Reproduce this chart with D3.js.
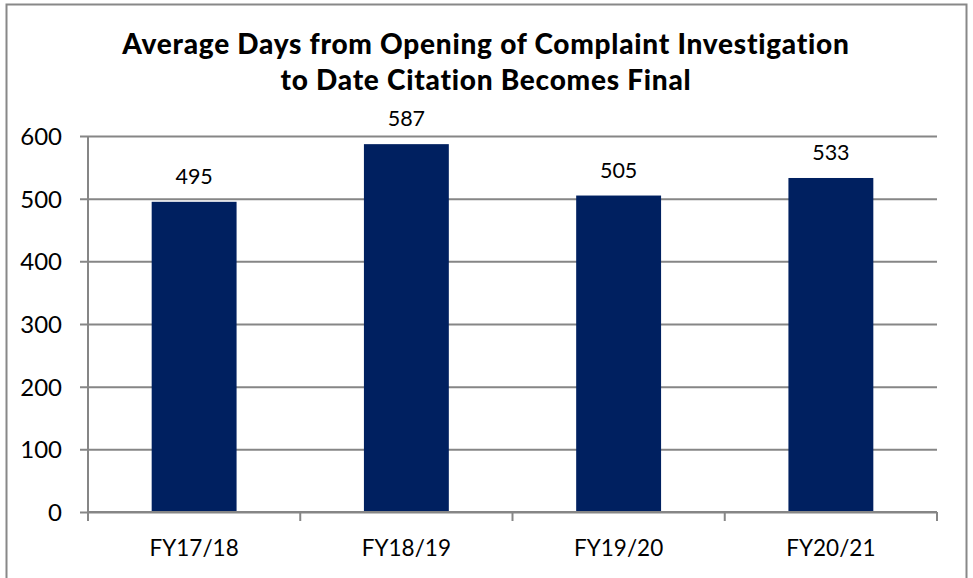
<!DOCTYPE html>
<html>
<head>
<meta charset="utf-8">
<script src="https://cdn.jsdelivr.net/npm/d3@7"></script>
<style>
  body { margin: 0; background: #fff; }
  text { font-family: Lato, "Open Sans", sans-serif; fill: #000; }
</style>
</head>
<body>
<svg width="973" height="578"></svg>
<script>
// chart data
var years = ['FY17/18', 'FY18/19', 'FY19/20', 'FY20/21'];
var avgDays = [495, 587, 505, 533];
var yTicks = [0, 100, 200, 300, 400, 500, 600];
var titleLines = ['Average Days from Opening of Complaint Investigation',
                  'to Date Citation Becomes Final'];

var svg = d3.select('svg');
var m = {left: 88, right: 937, top: 136, bottom: 512};
var gridColor = '#868686';

// outer frame (bottom edge runs off the picture)
svg.append('rect')
  .attr('x', 6.5).attr('y', 4.5)
  .attr('width', 960).attr('height', 600)
  .attr('fill', 'none')
  .attr('stroke', '#888').attr('stroke-width', 2);

var x = d3.scaleBand()
  .domain(years)
  .range([m.left, m.right])
  .paddingInner(0.6)
  .paddingOuter(0.3);

var y = d3.scaleLinear()
  .domain([0, 600])
  .range([m.bottom, m.top]);

// gridlines + y labels
var yAxis = d3.axisLeft(y)
  .tickValues(yTicks)
  .tickSize(0)
  .tickFormat(d3.format('d'));

var gy = svg.append('g')
  .attr('transform', 'translate(' + (m.left - 8) + ',0)')
  .call(yAxis);
gy.select('.domain').remove();
gy.selectAll('.tick line')
  .attr('x1', 0)
  .attr('x2', m.right - m.left + 8)
  .attr('stroke', gridColor).attr('stroke-width', 2);
gy.selectAll('.tick text')
  .attr('x', -18)
  .attr('dy', '0.35em')
  .style('font-size', '24px');

// y axis line
svg.append('line')
  .attr('x1', m.left).attr('x2', m.left)
  .attr('y1', m.top).attr('y2', m.bottom)
  .attr('stroke', gridColor).attr('stroke-width', 2);

// bars
svg.selectAll('rect.bar')
  .data(avgDays)
  .enter()
  .append('rect')
  .attr('class', 'bar')
  .attr('x', function(d, i) { return x(years[i]); })
  .attr('width', x.bandwidth())
  .attr('y', function(d) { return y(d); })
  .attr('height', function(d) { return y(0) - y(d); })
  .attr('fill', '#002060');

// value labels
svg.selectAll('text.val')
  .data(avgDays)
  .enter()
  .append('text')
  .attr('class', 'val')
  .attr('x', function(d, i) { return x(years[i]) + x.bandwidth() / 2; })
  .attr('y', function(d) { return y(d) - 18; })
  .attr('text-anchor', 'middle')
  .style('font-size', '21.5px')
  .text(function(d) { return d; });

// x axis with tick marks at category boundaries
svg.append('line')
  .attr('x1', m.left).attr('x2', m.right)
  .attr('y1', m.bottom).attr('y2', m.bottom)
  .attr('stroke', gridColor).attr('stroke-width', 2);

var bounds = d3.range(years.length + 1).map(function(i) { return m.left + i * (m.right - m.left) / years.length; });
svg.selectAll('line.xtick')
  .data(bounds)
  .enter()
  .append('line')
  .attr('class', 'xtick')
  .attr('x1', function(d) { return d; }).attr('x2', function(d) { return d; })
  .attr('y1', m.bottom).attr('y2', m.bottom + 9)
  .attr('stroke', gridColor).attr('stroke-width', 2);

svg.selectAll('text.cat')
  .data(years)
  .enter()
  .append('text')
  .attr('class', 'cat')
  .attr('x', function(d) { return x(d) + x.bandwidth() / 2; })
  .attr('y', 556)
  .attr('text-anchor', 'middle')
  .style('font-size', '22.5px')
  .text(function(d) { return d; });

// title
svg.selectAll('text.title')
  .data(titleLines)
  .enter()
  .append('text')
  .attr('class', 'title')
  .attr('x', 486)
  .attr('y', function(d, i) { return 54 + i * 36; })
  .attr('text-anchor', 'middle')
  .style('font-size', '28px')
  .style('letter-spacing', '0.75px')
  .style('font-weight', '900')
  .text(function(d) { return d; });
</script>
</body>
</html>
